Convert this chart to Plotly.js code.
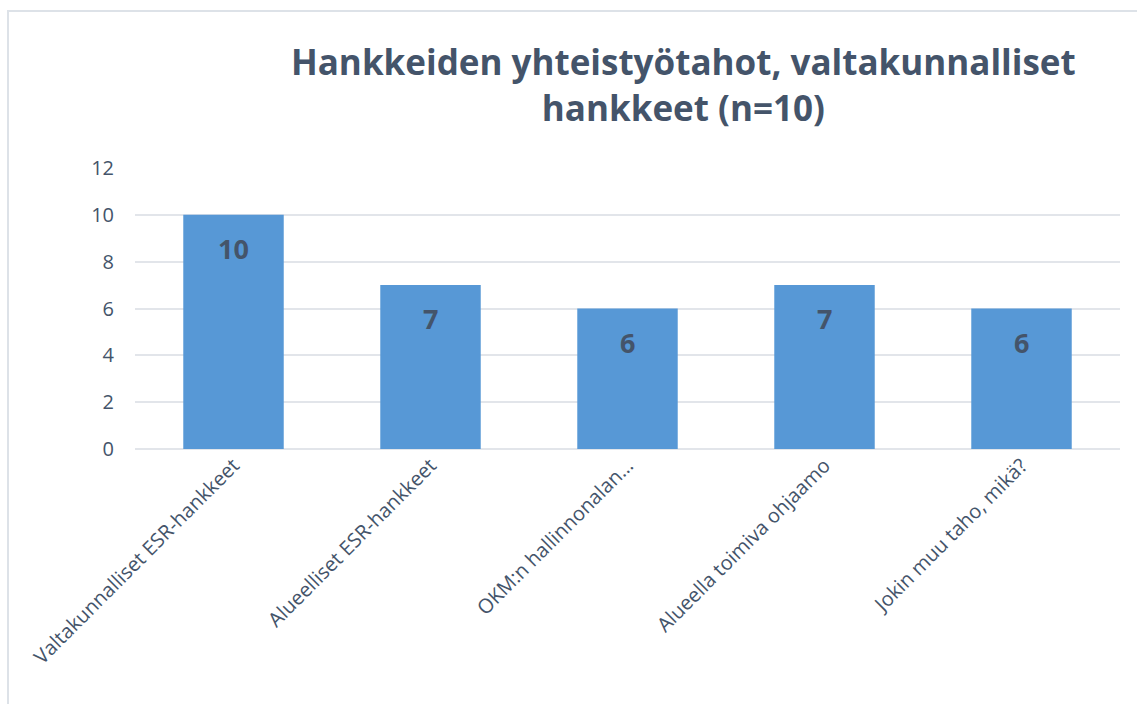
<!DOCTYPE html>
<html>
<head>
<meta charset="utf-8">
<script src="https://cdn.plot.ly/plotly-3.0.1.min.js"></script>
<style>
  html, body { margin: 0; padding: 0; background: #ffffff; }
  #wrap { position: relative; width: 1137px; height: 704px; overflow: hidden; }
  #chart { position: absolute; left: 0; top: 0; width: 1137px; height: 704px; }
  #frame { position: absolute; left: 7px; top: 10px; width: 1200px; height: 800px;
           border-left: 2px solid #DDE2E8; border-top: 2px solid #DDE2E8; pointer-events: none; }
</style>
</head>
<body>
<div id="wrap">
  <div id="chart"></div>
  <div id="frame"></div>
</div>
<script>
const categories = [
  "Valtakunnalliset ESR-hankkeet",
  "Alueelliset ESR-hankkeet",
  "OKM:n hallinnonalan…",
  "Alueella toimiva ohjaamo",
  "Jokin muu taho, mikä?"
];
const values = [10, 7, 6, 7, 6];
const yTicks = [0, 2, 4, 6, 8, 10, 12];
const titleText = "Hankkeiden yhteistyötahot, valtakunnalliset<br>hankkeet (n=10)";

const textColor = "#44546A";
const font = "Open Sans, Noto Sans, sans-serif";

const trace = {
  type: "bar",
  x: categories,
  y: values,
  marker: { color: "#5798D6" },
  hoverinfo: "none"
};

const annotations = categories.map((c, i) => ({
  x: c, y: values[i], xref: "x", yref: "y",
  text: "<b>" + values[i] + "</b>",
  showarrow: false, yanchor: "top", yshift: -13,
  font: { family: font, size: 27, color: textColor }
}));

const layout = {
  width: 1137, height: 704,
  margin: { l: 135, r: 17, t: 168, b: 255 },
  paper_bgcolor: "rgba(0,0,0,0)",
  plot_bgcolor: "rgba(0,0,0,0)",
  bargap: 0.49,
  showlegend: false,
  title: {
    text: titleText,
    x: 0.601, xref: "container", xanchor: "center",
    y: 1 - 75 / 704, yref: "container", yanchor: "top",
    font: { family: font, size: 35, color: textColor, weight: "bold" }
  },
  xaxis: {
    type: "category",
    tickangle: -45,
    tickfont: { family: font, size: 20, color: textColor },
    showgrid: false, zeroline: false, showline: false, ticks: ""
  },
  yaxis: {
    range: [0, 12],
    tickvals: yTicks,
    ticktext: yTicks.map(String),
    tickfont: { family: font, size: 20, color: textColor },
    ticklabelstandoff: 20,
    showgrid: true, gridcolor: "#E2E5EA", gridwidth: 2,
    zeroline: true, zerolinecolor: "#E2E5EA", zerolinewidth: 2,
    showline: false, ticks: ""
  },
  annotations: annotations
};

Plotly.newPlot("chart", [trace], layout, { staticPlot: true, displayModeBar: false });
</script>
</body>
</html>
